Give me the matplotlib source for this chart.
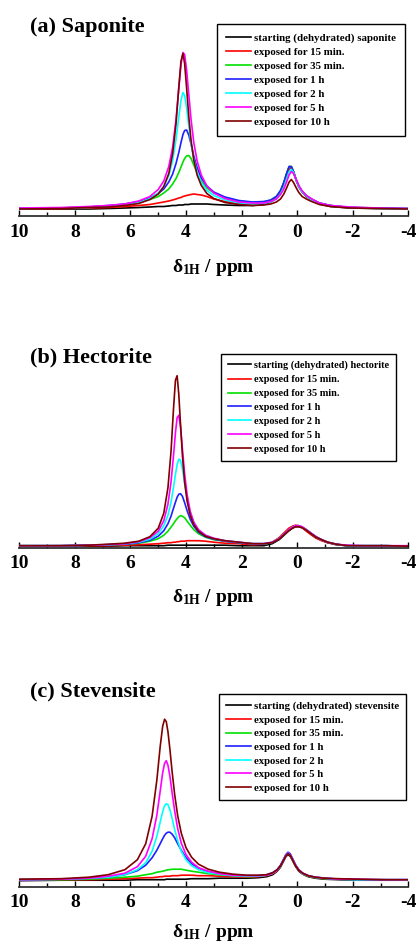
import matplotlib
matplotlib.use('Agg')
import matplotlib.pyplot as plt
from matplotlib.ticker import MultipleLocator

plt.rcParams['font.family'] = 'Liberation Serif'
plt.rcParams['font.weight'] = 'bold'
plt.rcParams['mathtext.fontset'] = 'custom'
plt.rcParams['mathtext.rm'] = 'Liberation Serif:bold'
plt.rcParams['mathtext.it'] = 'Liberation Serif:bold'
plt.rcParams['mathtext.bf'] = 'Liberation Serif:bold'
plt.rcParams['axes.unicode_minus'] = False

# chemical shift grids (ppm)
ppm_sap = [10, 8.5, 7.5, 6.8, 6.2, 5.7, 5.3, 5.0, 4.8, 4.62, 4.48, 4.36, 4.26, 4.18, 4.11, 4.05, 3.98, 3.9,
           3.82, 3.72, 3.6, 3.45, 3.25, 3.0, 2.6, 2.1, 1.6, 1.2, 0.95, 0.75, 0.6, 0.48, 0.38, 0.29, 0.21, 0.13,
           0.04, -0.06, -0.18, -0.33, -0.52, -0.8, -1.2, -1.9, -2.9, -4]
ppm_hec = [10, 8.5, 7.5, 6.8, 6.2, 5.7, 5.3, 5.0, 4.8, 4.65, 4.54, 4.45, 4.38, 4.32, 4.26, 4.2, 4.13, 4.05,
           3.96, 3.85, 3.72, 3.55, 3.3, 3.0, 2.6, 2.1, 1.6, 1.2, 0.9, 0.65, 0.45, 0.3, 0.17, 0.06, -0.05, -0.18,
           -0.33, -0.5, -0.68, -0.88, -1.1, -1.4, -1.8, -2.4, -3.2, -4]
ppm_ste = [10, 8.5, 7.5, 6.8, 6.2, 5.75, 5.45, 5.22, 5.05, 4.93, 4.84, 4.77, 4.71, 4.65, 4.58, 4.5, 4.41,
           4.3, 4.17, 4.0, 3.8, 3.55, 3.2, 2.8, 2.3, 1.8, 1.4, 1.1, 0.88, 0.72, 0.6, 0.5, 0.41, 0.33, 0.25, 0.16,
           0.06, -0.06, -0.2, -0.4, -0.65, -1.0, -1.5, -2.2, -3.0, -4]

# intensities (a.u.)
sap_start = [14, 14, 14, 15, 16, 17, 18, 19, 19, 20, 21, 21, 22, 22, 22, 23, 23, 23, 24, 24, 24, 24, 24, 23, 22, 21,
             21, 23, 28, 36, 49, 66, 84, 97, 98, 88, 73, 59, 48, 39, 32, 24, 19, 16, 15, 14]
sap_15min = [14, 15, 16, 17, 19, 21, 23, 26, 28, 30, 32, 34, 36, 37, 39, 40, 41, 42, 43, 44, 43, 42, 39, 34, 29, 25,
             24, 26, 29, 36, 47, 62, 80, 94, 97, 87, 72, 58, 48, 40, 32, 25, 20, 17, 15, 14]
sap_35min = [15, 16, 18, 20, 23, 27, 33, 39, 46, 54, 64, 75, 87, 98, 108, 115, 120, 121, 115, 102, 86, 70, 56, 46, 37,
             30, 27, 28, 32, 39, 50, 67, 85, 99, 99, 89, 73, 59, 49, 41, 33, 26, 21, 17, 16, 15]
sap_1h = [15, 16, 18, 21, 24, 29, 36, 45, 54, 68, 84, 105, 127, 147, 163, 171, 172, 162, 144, 120, 97, 76, 60, 48, 38,
          31, 28, 29, 32, 39, 51, 67, 85, 99, 99, 89, 73, 59, 49, 41, 34, 26, 21, 17, 16, 15]
sap_2h = [15, 16, 17, 19, 22, 27, 35, 46, 59, 81, 111, 153, 198, 232, 247, 241, 217, 180, 146, 113, 87, 67, 51, 41, 32,
          26, 24, 25, 28, 34, 44, 57, 74, 88, 93, 87, 73, 59, 48, 40, 32, 25, 20, 17, 15, 14]
sap_5h = [16, 17, 19, 21, 24, 30, 39, 53, 70, 99, 138, 193, 255, 303, 327, 323, 293, 243, 194, 147, 110, 82, 60, 46, 35,
          28, 26, 26, 29, 34, 43, 54, 68, 82, 89, 85, 74, 61, 50, 41, 34, 26, 21, 18, 16, 15]
sap_10h = [14, 15, 17, 18, 21, 25, 33, 44, 59, 85, 125, 185, 257, 310, 325, 305, 257, 199, 152, 112, 82, 61, 45, 35,
           27, 23, 21, 22, 24, 28, 34, 44, 56, 68, 73, 67, 57, 47, 39, 34, 29, 23, 19, 16, 15, 14]

hec_start = [3, 3, 3, 3, 4, 4, 4, 4, 4, 5, 5, 5, 5, 5, 5, 5, 5, 5, 5, 5, 5, 5, 5, 5, 5, 4, 4, 4, 8, 16, 26, 34, 39, 42,
             42, 40, 35, 27, 20, 15, 10, 6, 4, 3, 3, 3]
hec_15min = [3, 4, 4, 4, 5, 6, 7, 8, 9, 10, 10, 11, 11, 12, 12, 13, 13, 13, 14, 14, 14, 14, 13, 11, 9, 8, 6, 7, 11, 20,
             31, 39, 43, 45, 44, 40, 33, 26, 19, 14, 10, 7, 4, 3, 3, 3]
hec_35min = [4, 4, 5, 5, 7, 9, 13, 18, 25, 33, 41, 48, 54, 58, 62, 64, 63, 60, 53, 45, 36, 28, 21, 16, 13, 10, 8, 7, 10,
             18, 27, 35, 41, 43, 44, 41, 36, 29, 21, 16, 11, 7, 4, 4, 4, 3]
hec_1h = [4, 4, 5, 6, 7, 10, 15, 23, 34, 48, 63, 79, 91, 101, 107, 108, 103, 90, 74, 57, 43, 31, 22, 17, 13, 10, 8, 8,
          10, 18, 28, 35, 41, 43, 44, 41, 36, 29, 22, 16, 11, 7, 4, 4, 4, 3]
hec_2h = [4, 4, 5, 6, 8, 11, 17, 28, 44, 65, 91, 121, 147, 166, 177, 175, 158, 129, 99, 71, 51, 35, 25, 18, 14, 11, 8,
          8, 11, 18, 28, 36, 41, 44, 44, 41, 36, 29, 22, 16, 11, 7, 4, 4, 4, 3]
hec_5h = [4, 4, 5, 6, 8, 12, 20, 33, 54, 87, 131, 184, 230, 260, 265, 243, 198, 148, 106, 73, 51, 36, 25, 19, 14, 11, 8,
          8, 11, 18, 28, 36, 41, 44, 44, 42, 36, 29, 22, 16, 11, 7, 5, 4, 4, 4]
hec_10h = [4, 4, 5, 7, 9, 13, 22, 39, 69, 120, 192, 278, 335, 344, 307, 249, 185, 131, 93, 65, 46, 33, 23, 18, 14, 11,
           8, 8, 10, 17, 27, 34, 39, 42, 42, 40, 35, 28, 21, 16, 11, 7, 4, 4, 4, 3]

ste_start = [12, 13, 13, 13, 13, 14, 14, 14, 14, 14, 14, 14, 15, 15, 15, 15, 15, 15, 15, 15, 16, 16, 16, 17, 17, 17, 18,
             20, 24, 31, 39, 50, 60, 64, 61, 52, 41, 31, 25, 20, 17, 15, 14, 13, 13, 13]
ste_15min = [13, 14, 14, 15, 16, 17, 18, 18, 19, 20, 20, 21, 21, 21, 21, 22, 22, 22, 23, 23, 23, 22, 22, 21, 20, 19, 20,
             22, 26, 32, 41, 51, 61, 66, 63, 53, 42, 32, 26, 21, 18, 16, 15, 14, 14, 13]
ste_35min = [14, 14, 15, 17, 19, 21, 24, 26, 29, 30, 31, 32, 33, 34, 34, 35, 35, 35, 35, 33, 31, 29, 26, 24, 22, 20, 21,
             23, 27, 33, 41, 52, 62, 66, 63, 54, 43, 33, 26, 21, 18, 16, 15, 14, 14, 13]
ste_1h = [14, 15, 17, 19, 24, 32, 43, 58, 73, 86, 96, 103, 107, 109, 109, 105, 98, 86, 73, 58, 46, 37, 30, 26, 23, 22,
          22, 24, 28, 34, 43, 54, 64, 69, 66, 56, 44, 34, 27, 22, 19, 17, 15, 14, 14, 14]
ste_2h = [14, 15, 17, 19, 24, 34, 48, 71, 101, 129, 150, 162, 166, 164, 154, 137, 115, 92, 71, 54, 42, 34, 28, 25, 22,
          21, 21, 23, 27, 33, 42, 52, 62, 67, 64, 54, 43, 33, 26, 22, 19, 17, 15, 14, 14, 14]
ste_5h = [14, 15, 17, 21, 27, 40, 61, 96, 143, 191, 228, 247, 252, 243, 221, 188, 152, 116, 87, 64, 49, 38, 31, 26, 23,
          22, 22, 23, 27, 33, 42, 52, 62, 67, 64, 54, 43, 33, 27, 22, 19, 17, 15, 15, 14, 14]
ste_10h = [15, 16, 19, 24, 34, 54, 86, 141, 213, 280, 321, 335, 330, 310, 275, 230, 185, 142, 107, 78, 59, 45, 35, 29,
           25, 23, 23, 24, 28, 34, 42, 52, 61, 66, 63, 53, 42, 33, 27, 22, 19, 17, 16, 15, 14, 14]

colors = ['#000000', '#ff0000', '#00e000', '#1f1fff', '#00ffff', '#ff00ff', '#800000']
times = ['exposed for 15 min.', 'exposed for 35 min.', 'exposed for 1 h', 'exposed for 2 h',
         'exposed for 5 h', 'exposed for 10 h']

W, H = 417, 944
fig = plt.figure(figsize=(W / 100, H / 100), dpi=100)

panels = [('(a) Saponite', 'saponite', ppm_sap, [sap_start, sap_15min, sap_35min, sap_1h, sap_2h, sap_5h, sap_10h],
           216, 32.3, 272, (405, 24), 'upper right', 7.8, 0.40, 0.85),
          ('(b) Hectorite', 'hectorite', ppm_hec, [hec_start, hec_15min, hec_35min, hec_1h, hec_2h, hec_5h, hec_10h],
           547.7, 362.3, 602, (221, 354), 'upper left', 7.4, 0.46, 0.65),
          ('(c) Stevensite', 'stevensite', ppm_ste, [ste_start, ste_15min, ste_35min, ste_1h, ste_2h, ste_5h, ste_10h],
           886.7, 696.7, 937, (406, 694.3), 'upper right', 7.78, 0.37, 0.67)]

for title, mineral, ppm, curves, y_axis, y_title, y_label, leg, loc, fs, ls, bp in panels:
    ax = fig.add_axes([19.3 / W, 1 - y_axis / H, 389 / W, 196 / H])
    labels = ['starting (dehydrated) ' + mineral] + times
    for yv, c, lab in zip(curves, colors, labels):
        ax.plot(ppm, yv, color=c, lw=1.2, label=lab)
    ax.set_xlim(10, -4)
    ax.set_ylim(0, 392)
    for s in ['left', 'top', 'right']:
        ax.spines[s].set_visible(False)
    ax.spines['bottom'].set_linewidth(1.3)
    ax.spines['bottom'].set_color('#333333')
    ax.set_yticks([])
    ax.xaxis.set_major_locator(MultipleLocator(2))
    ax.xaxis.set_minor_locator(MultipleLocator(1))
    ax.tick_params(axis='x', which='major', direction='in', length=4.5, width=1, pad=5.5, labelsize=14)
    ax.tick_params(axis='x', which='minor', direction='in', length=3, width=1)
    ax.patch.set_visible(False)
    ax.legend(loc=loc, bbox_to_anchor=(leg[0] / W, 1 - leg[1] / H), bbox_transform=fig.transFigure,
              fancybox=False, edgecolor='black', framealpha=1, prop={'family': 'Liberation Serif', 'weight': 'bold',
              'size': fs}, handlelength=2.28, handletextpad=0.27, labelspacing=ls, borderpad=bp,
              borderaxespad=0).get_frame().set_linewidth(1.0)
    fig.text(30 / W, 1 - y_title / H, title, fontsize=16, fontweight='bold', va='baseline', ha='left')
    fig.text(213.8 / W, 1 - y_label / H, r'$\delta_{1H}$ / ppm', fontsize=14, va='baseline', ha='center')

fig.savefig('out.png', dpi=100)
